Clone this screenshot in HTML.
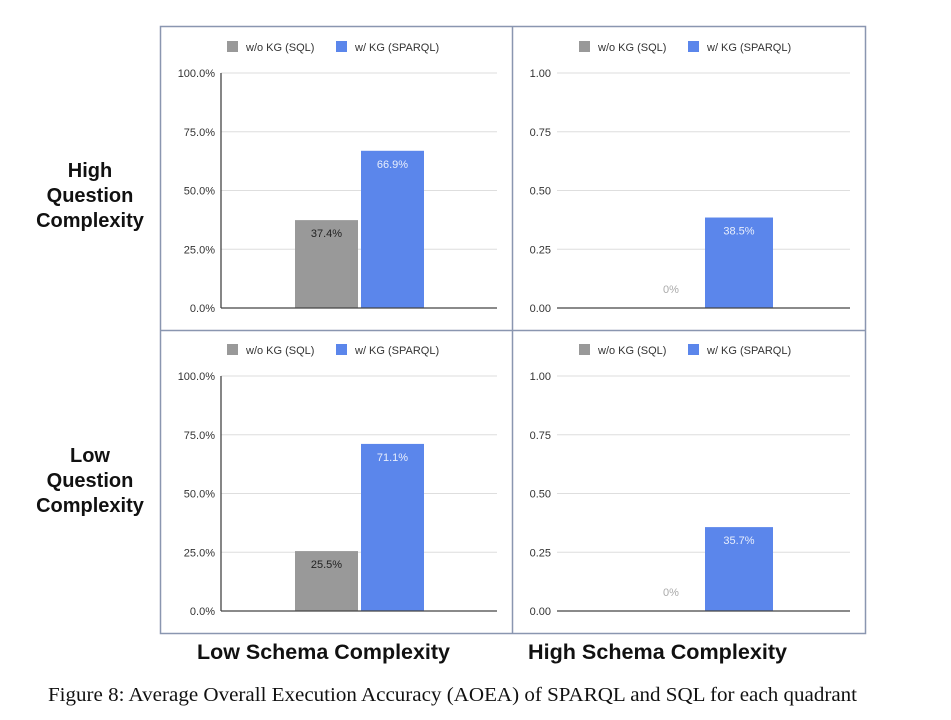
<!DOCTYPE html>
<html><head><meta charset="utf-8"><style>
html,body{margin:0;padding:0;background:#fff;}
svg{display:block;font-family:"Liberation Sans",Arial,sans-serif;}
</style></head><body>
<svg id="fig" width="951" height="720" viewBox="0 0 951 720">
<rect x="0" y="0" width="951" height="720" fill="#fff"/>
<g fill="none" stroke="#8a96b0" stroke-width="1.5">
<rect x="160.5" y="26.5" width="705" height="607"/>
<line x1="512.5" y1="26" x2="512.5" y2="634"/>
<line x1="160" y1="330.5" x2="866" y2="330.5"/>
</g>
<g font-weight="bold" font-size="20" text-anchor="middle" fill="#111">
<text x="90" y="177">High</text><text x="90" y="202">Question</text><text x="90" y="227">Complexity</text>
</g>
<g font-weight="bold" font-size="20" text-anchor="middle" fill="#111">
<text x="90" y="462">Low</text><text x="90" y="487">Question</text><text x="90" y="512">Complexity</text>
</g>
<text x="197" y="659" font-size="21" font-weight="bold" textLength="253" lengthAdjust="spacingAndGlyphs" fill="#111">Low Schema Complexity</text>
<text x="528" y="659" font-size="21" font-weight="bold" textLength="259" lengthAdjust="spacingAndGlyphs" fill="#111">High Schema Complexity</text>
<text x="48" y="701" font-family="'Liberation Serif',serif" font-size="20" textLength="809" lengthAdjust="spacingAndGlyphs" fill="#111">Figure 8: Average Overall Execution Accuracy (AOEA) of SPARQL and SQL for each quadrant</text>
<g id="panels"></g>
</svg>
<script>
const seriesNames = ["w/o KG (SQL)", "w/ KG (SPARQL)"];
const sqlValues = [37.4, 0, 25.5, 0];
const sparqlValues = [66.9, 38.5, 71.1, 35.7];
const sqlLabels = ["37.4%", "0%", "25.5%", "0%"];
const sparqlLabels = ["66.9%", "38.5%", "71.1%", "35.7%"];
const pctTicks = ["0.0%", "25.0%", "50.0%", "75.0%", "100.0%"];
const decTicks = ["0.00", "0.25", "0.50", "0.75", "1.00"];
const tickValues = [0, 25, 50, 75, 100];

const NS = "http://www.w3.org/2000/svg";
const root = document.getElementById("panels");
function mk(tag, attrs, parent) {
  const e = document.createElementNS(NS, tag);
  for (const k in attrs) e.setAttribute(k, attrs[k]);
  parent.appendChild(e);
  return e;
}
const panels = [
  {ox: 0, oy: 0, left: 221, right: 497, ticks: pctTicks, labX: 215, axisLine: true, sqlX: 295, spX: 361, bw: 63, legX: 227},
  {ox: 0, oy: 0, left: 557, right: 850, ticks: decTicks, labX: 551, axisLine: false, sqlX: 637, spX: 705, bw: 68, legX: 579},
  {ox: 0, oy: 303, left: 221, right: 497, ticks: pctTicks, labX: 215, axisLine: true, sqlX: 295, spX: 361, bw: 63, legX: 227},
  {ox: 0, oy: 303, left: 557, right: 850, ticks: decTicks, labX: 551, axisLine: false, sqlX: 637, spX: 705, bw: 68, legX: 579}
];
panels.forEach((p, i) => {
  const g = mk("g", {}, root);
  
  
  const y0 = 308 + p.oy, y1 = 73 + p.oy;
  const yS = v => y0 - (v / 100) * (y0 - y1);
  // gridlines and ticks
  tickValues.forEach((tv, j) => {
    const y = yS(tv);
    if (tv > 0) {
      const l = mk("line", {x1: p.left, x2: p.right, y1: y, y2: y, stroke: "#dedede", "stroke-width": 1}, g);
      
      
    }
    const t = mk("text", {x: p.labX, y: y + 4, "text-anchor": "end", "font-size": 11, fill: "#333"}, g);
    
    
    t.textContent = p.ticks[j];
  });
  // bars
  const bars = [[sqlValues[i], sqlLabels[i], p.sqlX, "#999999", "#222"], [sparqlValues[i], sparqlLabels[i], p.spX, "#5b86eb", "#e8eefc"]];
  bars.forEach((b, k) => {
    const top = yS(b[0]);
    if (b[0] > 0) {
      const r = mk("rect", {x: b[2], y: top, width: p.bw, height: y0 - top, fill: b[3]}, g);
      
      
    }
    const t = mk("text", {x: b[2] + p.bw / 2, y: b[0] > 0 ? top + 17 : y0 - 15, "text-anchor": "middle", "font-size": 11, fill: b[0] > 0 ? b[4] : "#aaa"}, g);
    
    
    t.textContent = b[1];
  });
  // baseline
  const bl = mk("line", {x1: p.left, x2: p.right, y1: y0, y2: y0, stroke: "#444", "stroke-width": 1.3}, g);
  
  
  if (p.axisLine) {
    const al = mk("line", {x1: p.left, x2: p.left, y1: y1, y2: y0, stroke: "#444", "stroke-width": 1.3}, g);
    
    
  }
  // legend
  const ly = 47 + p.oy;
  const lg = mk("g", {}, g);
  
  
  [[p.legX, "#999999", seriesNames[0]], [p.legX + 109, "#5b86eb", seriesNames[1]]].forEach((e, k) => {
    const ge = mk("g", {}, lg);
    
    
    mk("rect", {x: e[0], y: ly - 6, width: 11, height: 11, fill: e[1]}, ge);
    const t = mk("text", {x: e[0] + 19, y: ly + 4, "font-size": 11, fill: "#333"}, ge);
    t.textContent = e[2];
  });
});
</script>
</body></html>
